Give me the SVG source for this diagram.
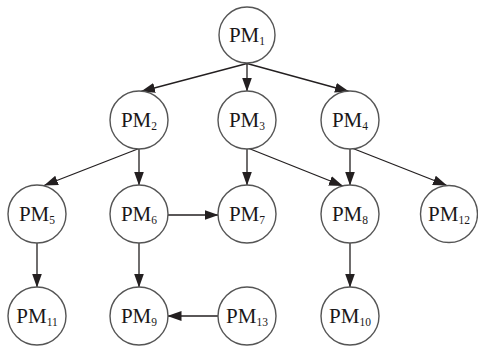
<svg xmlns="http://www.w3.org/2000/svg" width="478" height="347" viewBox="0 0 478 347">
<style>
.n circle{fill:#fff;stroke:#555;stroke-width:1.4}
.n text{font-family:"Liberation Serif","Times New Roman",serif;font-size:21px;fill:#1a1718;text-anchor:middle}
.n tspan.s{font-size:11.5px}
#edges line{stroke:#231f20;stroke-width:1.3;marker-end:url(#ah)}
</style>
<defs>
<marker id="ah" markerUnits="userSpaceOnUse" markerWidth="14" markerHeight="10" refX="14" refY="5" orient="auto">
<path d="M0,0 L14,5 L0,10 Z" fill="#231f20"/>
</marker>
</defs>
<rect width="478" height="347" fill="#fff"/>
<g id="edges">
<line x1="247" y1="63.5" x2="141" y2="91.5"/>
<line x1="247" y1="63.5" x2="247" y2="91.5"/>
<line x1="247" y1="63.5" x2="349" y2="91.5"/>
<line x1="139" y1="148.5" x2="44" y2="185.5"/>
<line x1="139" y1="148.5" x2="139" y2="185.5"/>
<line x1="249" y1="148.5" x2="343" y2="186"/>
<line x1="247" y1="148.5" x2="247" y2="185.5"/>
<line x1="350" y1="148.5" x2="350" y2="185.5"/>
<line x1="353" y1="148.5" x2="447" y2="185.5"/>
<line x1="167.5" y1="215" x2="218.5" y2="215"/>
<line x1="37" y1="242.5" x2="37" y2="287.5"/>
<line x1="139" y1="242.5" x2="139" y2="287.5"/>
<line x1="350" y1="242.5" x2="350" y2="287.5"/>
<line x1="218.5" y1="316" x2="167.5" y2="316"/>
</g>
<g id="pm1" class="n"><circle cx="247" cy="35" r="28"/><text x="247" y="41.5">PM<tspan class="s" dy="3">1</tspan></text></g>
<g id="pm2" class="n"><circle cx="139" cy="120" r="29"/><text x="139" y="126.5">PM<tspan class="s" dy="3">2</tspan></text></g>
<g id="pm3" class="n"><circle cx="247" cy="120" r="29"/><text x="247" y="126.5">PM<tspan class="s" dy="3">3</tspan></text></g>
<g id="pm4" class="n"><circle cx="350" cy="120" r="29"/><text x="350" y="126.5">PM<tspan class="s" dy="3">4</tspan></text></g>
<g id="pm5" class="n"><circle cx="37" cy="214" r="29"/><text x="37" y="220.5">PM<tspan class="s" dy="3">5</tspan></text></g>
<g id="pm6" class="n"><circle cx="139" cy="214" r="29"/><text x="139" y="220.5">PM<tspan class="s" dy="3">6</tspan></text></g>
<g id="pm7" class="n"><circle cx="247" cy="214" r="29"/><text x="247" y="220.5">PM<tspan class="s" dy="3">7</tspan></text></g>
<g id="pm8" class="n"><circle cx="350" cy="214" r="29"/><text x="350" y="220.5">PM<tspan class="s" dy="3">8</tspan></text></g>
<g id="pm12" class="n"><circle cx="449" cy="214" r="28.5"/><text x="449" y="220.5">PM<tspan class="s" dy="3">12</tspan></text></g>
<g id="pm11" class="n"><circle cx="37" cy="316" r="29"/><text x="37" y="322.5">PM<tspan class="s" dy="3">11</tspan></text></g>
<g id="pm9" class="n"><circle cx="139" cy="316" r="29"/><text x="139" y="322.5">PM<tspan class="s" dy="3">9</tspan></text></g>
<g id="pm13" class="n"><circle cx="247" cy="316" r="29"/><text x="247" y="322.5">PM<tspan class="s" dy="3">13</tspan></text></g>
<g id="pm10" class="n"><circle cx="350" cy="316" r="29"/><text x="350" y="322.5">PM<tspan class="s" dy="3">10</tspan></text></g>
</svg>
